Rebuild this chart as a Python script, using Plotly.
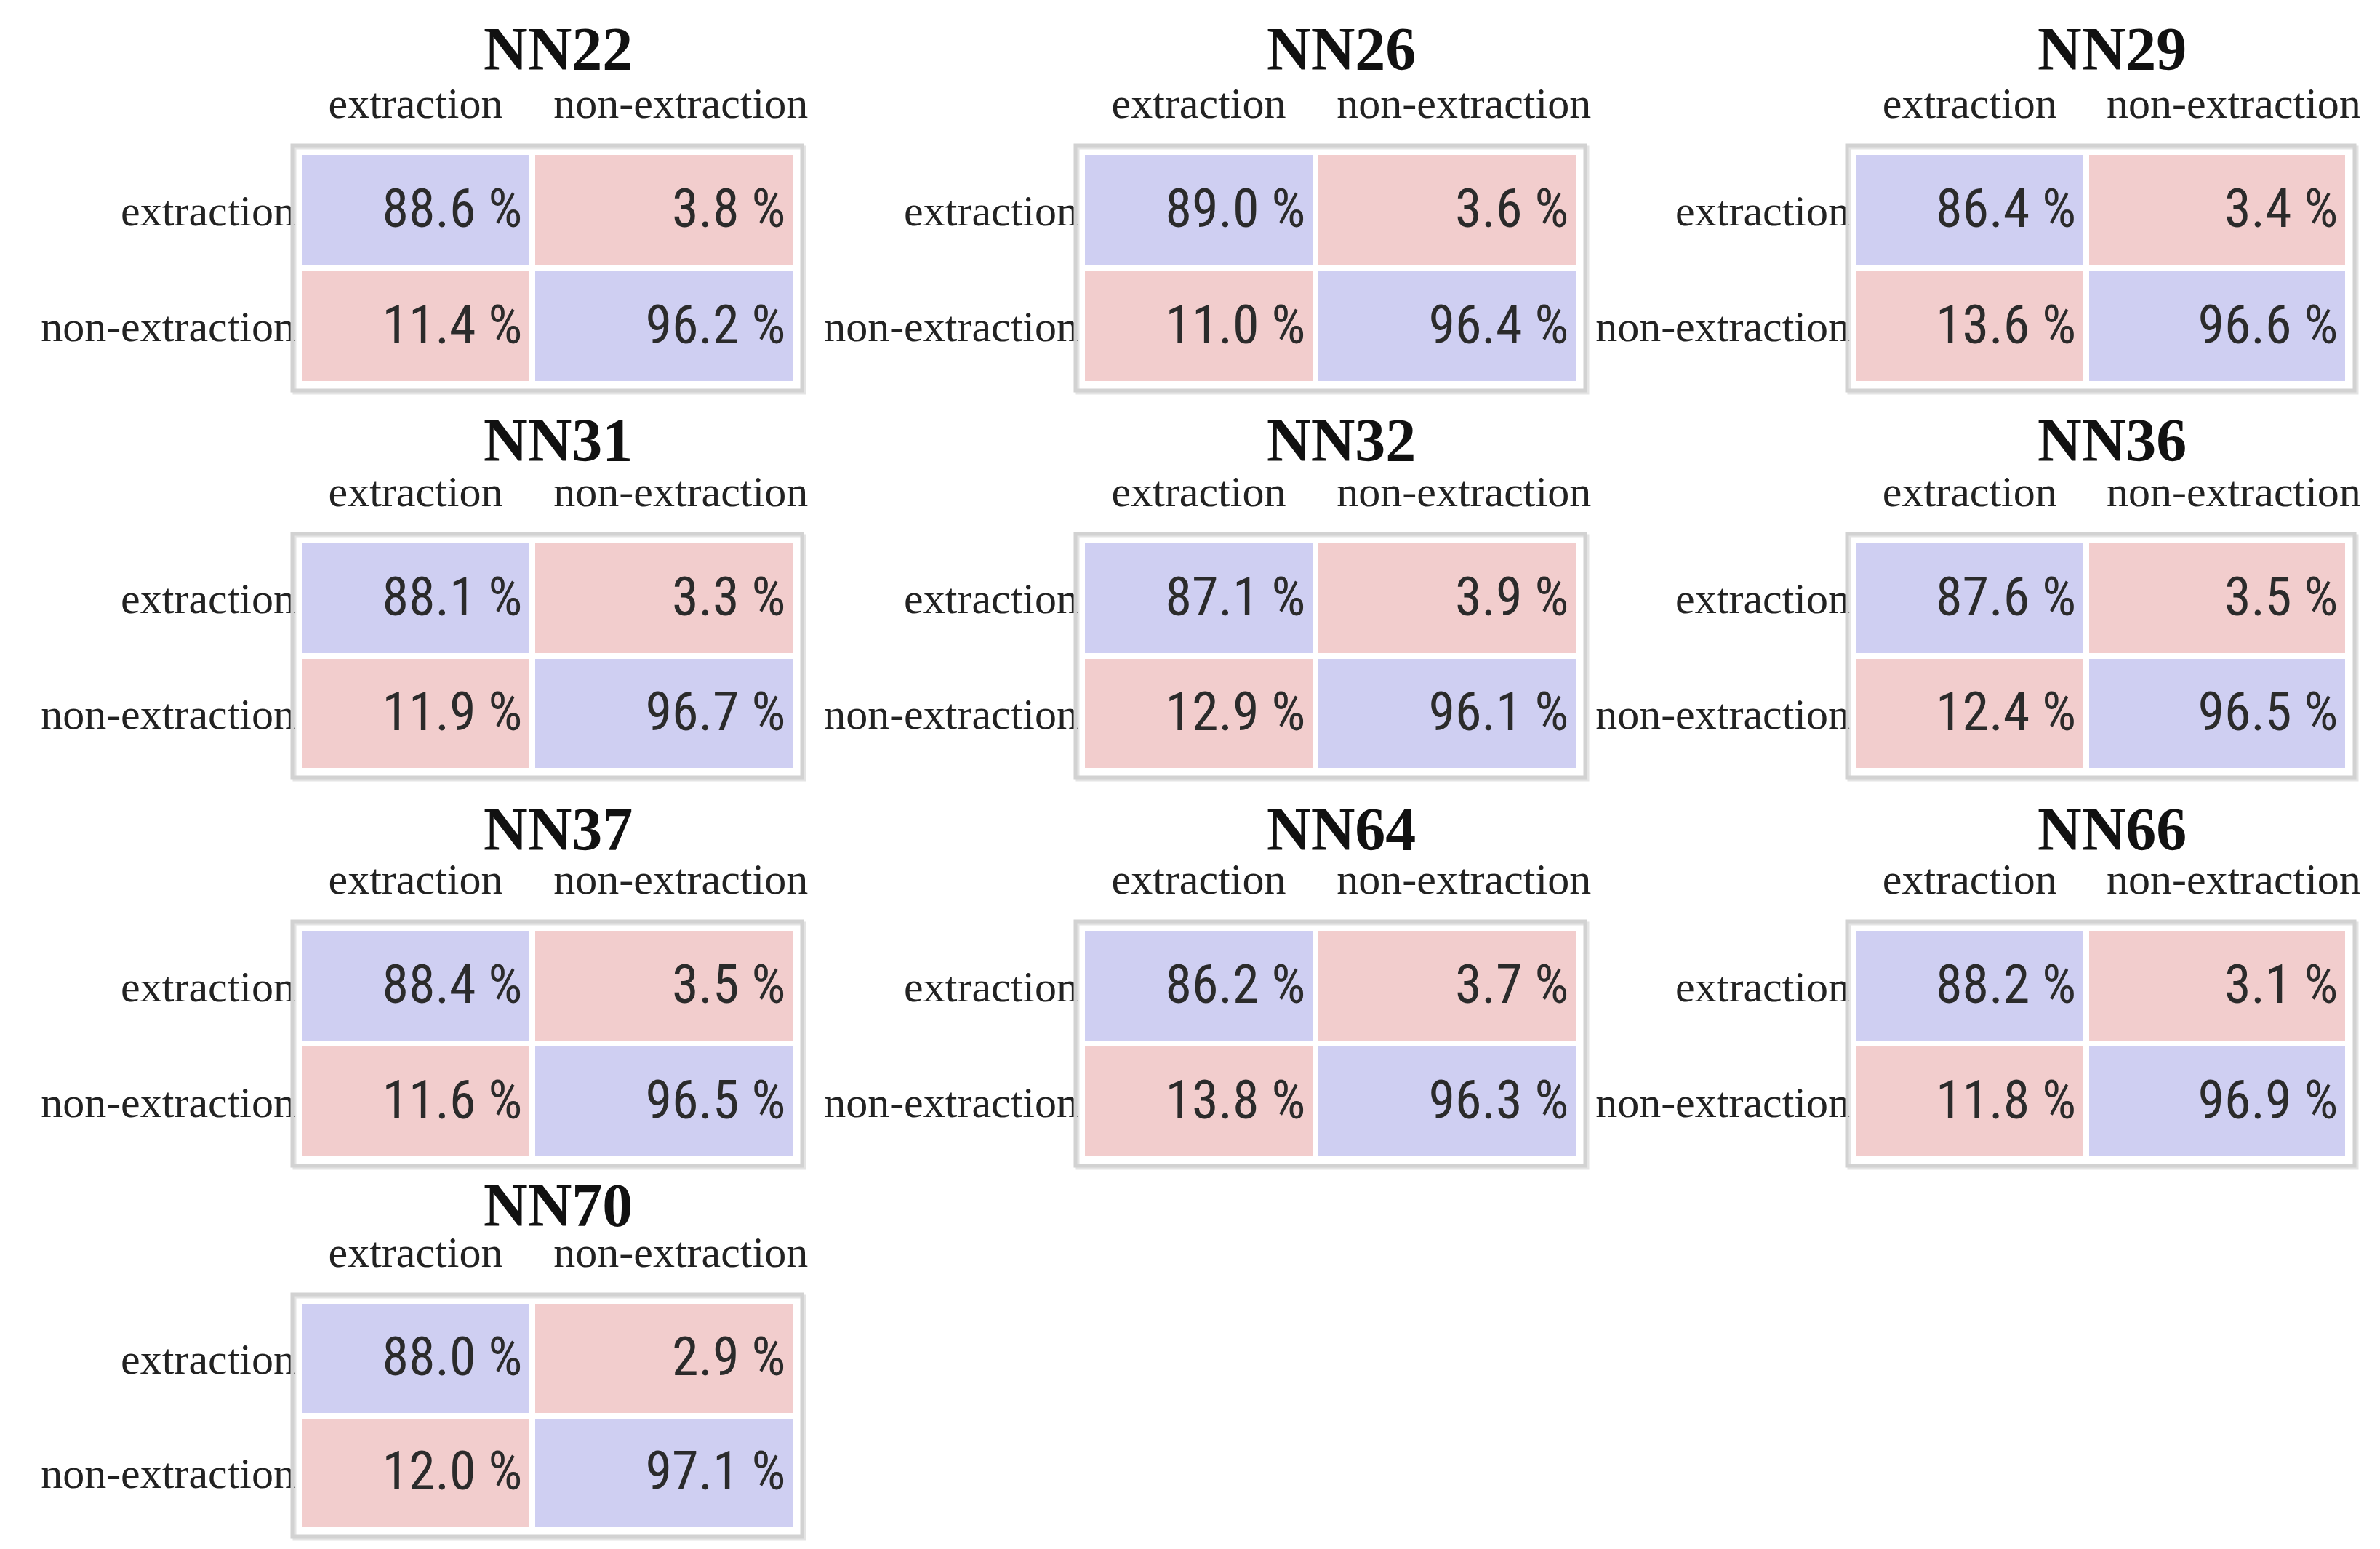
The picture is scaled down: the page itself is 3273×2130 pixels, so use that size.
import plotly.graph_objects as go

# ---------------- data ----------------
models = ["NN22", "NN26", "NN29", "NN31", "NN32", "NN36", "NN37", "NN64", "NN66", "NN70"]
classes = ["extraction", "non-extraction"]
# rows = row label, columns = column label (column-normalised %)
ext_ext = [88.6, 89.0, 86.4, 88.1, 87.1, 87.6, 88.4, 86.2, 88.2, 88.0]
ext_non = [3.8, 3.6, 3.4, 3.3, 3.9, 3.5, 3.5, 3.7, 3.1, 2.9]
non_ext = [11.4, 11.0, 13.6, 11.9, 12.9, 12.4, 11.6, 13.8, 11.8, 12.0]
non_non = [96.2, 96.4, 96.6, 96.7, 96.1, 96.5, 96.5, 96.3, 96.9, 97.1]

# ---------------- layout geometry (pixels) ----------------
W, H = 3273, 2130
col_x = [(403, 1086), (1480, 2163), (2541, 3221)]
row_y = [(201, 520), (735, 1052), (1268, 1586), (1781, 2096)]
title_off = [142, 137, 136, 132]
SPLIT = 0.47          # left column share of the matrix width
TPAD = 0.02           # right text padding inside cells (axis fraction)
LABEL_SHIFT = [0.0, 0.034]  # column-label offset from cell centre (axis fraction)

BLUE = "#cfcff2"
RED = "#f2cdcd"
SERIF = "Liberation Serif, DejaVu Serif, serif"
NARROW = "Roboto Condensed, DejaVu Sans Condensed, Liberation Sans, sans-serif"

fig = go.Figure()
shapes = []
annotations = []

edges = [0, SPLIT, 1]
centers = [SPLIT / 2 + LABEL_SHIFT[0], (1 + SPLIT) / 2 + LABEL_SHIFT[1]]

for i, name in enumerate(models):
    r, c = divmod(i, 3)
    x0, x1 = col_x[c]
    y0, y1 = row_y[r]
    k = "" if i == 0 else str(i + 1)
    xa, ya = "x" + k, "y" + k

    z = [[ext_ext[i], ext_non[i]], [non_ext[i], non_non[i]]]
    fig.add_trace(go.Heatmap(
        z=z, x=edges, y=[0, 1],
        zmin=0, zmax=100,
        colorscale=[[0, RED], [0.5, RED], [0.5, BLUE], [1, BLUE]],
        showscale=False, xgap=8, ygap=8, hoverinfo="skip",
        xaxis=xa, yaxis=ya,
    ))
    tx, ty, tt = [], [], []
    for rr in range(2):
        for cc in range(2):
            tx.append(edges[cc + 1] - TPAD)
            ty.append(rr + 0.03)
            tt.append(f"{z[rr][cc]:.1f} %")
    fig.add_trace(go.Scatter(
        x=tx, y=ty, text=tt, mode="text", textposition="middle left",
        textfont=dict(family=NARROW, size=74, color="#2b2b2b"),
        hoverinfo="skip", showlegend=False, xaxis=xa, yaxis=ya,
    ))

    axis_common = dict(showgrid=False, zeroline=False, showline=False, ticks="",
                       ticktext=classes, automargin=False, fixedrange=True)
    fig.update_layout(**{
        ("xaxis" + k): dict(axis_common, domain=[x0 / W, x1 / W], anchor=ya, side="top",
                            range=[0, 1], tickvals=centers, ticklabelstandoff=34,
                            tickfont=dict(family=SERIF, size=60, color="#222222")),
        ("yaxis" + k): dict(axis_common, domain=[1 - y1 / H, 1 - y0 / H], anchor=xa,
                            range=[1.5, -0.5], tickvals=[0, 1], ticklabelstandoff=4,
                            tickfont=dict(family=SERIF, size=60, color="#222222")),
    })

    # box frame (shadow + border)
    pad = 9
    bx0, bx1, by0, by1 = x0 - pad, x1 + pad, y0 - pad, y1 + pad
    shapes.append(dict(type="rect", xref="paper", yref="paper",
                       x0=(bx0 + 3) / W, x1=(bx1 + 3) / W, y0=1 - (by1 + 3) / H, y1=1 - (by0 + 3) / H,
                       line=dict(color="#e4e4e4", width=5), fillcolor="rgba(0,0,0,0)", layer="below"))
    shapes.append(dict(type="rect", xref="paper", yref="paper",
                       x0=bx0 / W, x1=bx1 / W, y0=1 - by1 / H, y1=1 - by0 / H,
                       line=dict(color="#d2d2d2", width=5), fillcolor="rgba(0,0,0,0)", layer="above"))

    annotations.append(dict(text="<b>" + name + "</b>", xref="paper", yref="paper",
                            x=((x0 + x1) / 2 + 15) / W, y=1 - (y0 - title_off[r]) / H,
                            xanchor="center", yanchor="middle", showarrow=False,
                            font=dict(family=SERIF, size=84, color="#111111")))

fig.update_layout(
    width=W, height=H, margin=dict(l=0, r=0, t=0, b=0),
    paper_bgcolor="white", plot_bgcolor="white",
    showlegend=False, shapes=shapes, annotations=annotations,
)

fig.write_html("out.html")
